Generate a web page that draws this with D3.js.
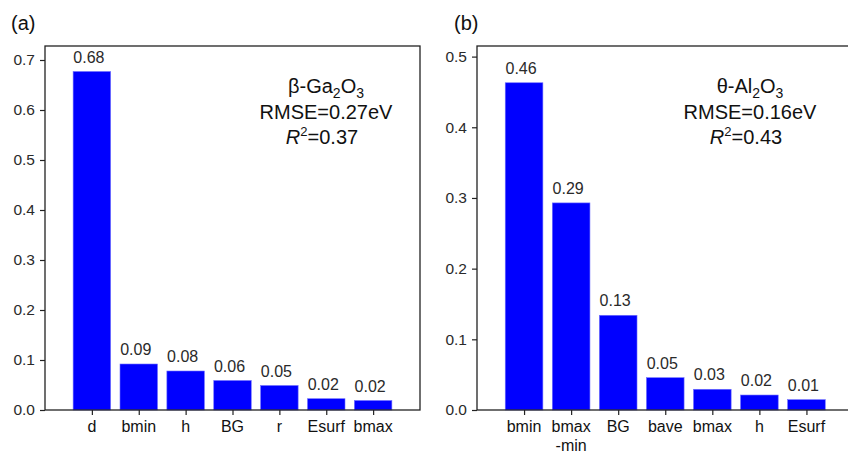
<!DOCTYPE html>
<html>
<head>
<meta charset="utf-8">
<script src="https://cdn.jsdelivr.net/npm/d3@7"></script>
<style>
  html, body { margin: 0; padding: 0; background: #fff; }
  svg { display: block; font-family: "Liberation Sans", Arial, sans-serif; }
</style>
</head>
<body>
<svg id="chart" width="848" height="455"></svg>
<script>
// Feature importance, panel (a): beta-Ga2O3
const featuresA = ["d", "bmin", "h", "BG", "r", "Esurf", "bmax"];
const importanceA = [0.677, 0.092, 0.078, 0.059, 0.049, 0.0226, 0.019];
const yTicksA = [0, 0.1, 0.2, 0.3, 0.4, 0.5, 0.6, 0.7];

// Feature importance, panel (b): theta-Al2O3
const featuresB = ["bmin", "bmax\n-min", "BG", "bave", "bmax", "h", "Esurf"];
const importanceB = [0.463, 0.293, 0.134, 0.0457, 0.0293, 0.0212, 0.0146];
const yTicksB = [0, 0.1, 0.2, 0.3, 0.4, 0.5];

// Fit statistics shown inside each panel
const statsA = { phase: "β", metal: "Ga", rmse: "0.27", r2: "0.37" };
const statsB = { phase: "θ", metal: "Al", rmse: "0.16", r2: "0.43" };

const svg = d3.select("#chart");
const fmt2 = d3.format(".2f");
const fmt1 = d3.format(".1f");

function drawPanel(opt) {
  const { left, width, top, bottom, yMax, feats, vals, ticks, tag, tagX, stats, noteX } = opt;
  const g = svg.append("g");

  const x = d3.scaleLinear().domain([-1, 7]).range([left, left + width]);
  const y = d3.scaleLinear().domain([0, yMax]).range([bottom, top]);
  const barW = x(0.8) - x(0);

  // bars
  g.selectAll("rect.bar")
    .data(vals)
    .join("rect")
    .attr("class", "bar")
    .attr("x", (d, i) => x(i) - barW / 2)
    .attr("y", d => y(d))
    .attr("width", barW)
    .attr("height", d => y(0) - y(d))
    .attr("fill", "#0000ff")
    .attr("stroke", "#6f6fff")
    .attr("stroke-width", 0.6);

  // value labels
  g.selectAll("text.val")
    .data(vals)
    .join("text")
    .attr("class", "val")
    .attr("x", (d, i) => x(i) - 3)
    .attr("y", d => y(d) - 9)
    .attr("text-anchor", "middle")
    .attr("font-size", 16)
    .attr("fill", "#2a2a2a")
    .text(d => fmt2(d));

  // y axis
  const ya = g.append("g")
    .attr("transform", `translate(${left},0)`)
    .call(d3.axisLeft(y).tickValues(ticks).tickFormat(fmt1).tickSize(5).tickPadding(5));
  ya.select(".domain").remove();
  ya.selectAll("line").attr("stroke", "#222").attr("stroke-width", 1.2);
  ya.selectAll("text").attr("font-size", 15.5).attr("fill", "#2a2a2a")
    .attr("font-family", "Liberation Sans, Arial, sans-serif");

  // x axis with category names
  const xa = g.append("g")
    .attr("transform", `translate(0,${bottom})`)
    .call(d3.axisBottom(x).tickValues(d3.range(feats.length)).tickFormat("").tickSize(5));
  xa.select(".domain").remove();
  xa.selectAll("line").attr("stroke", "#222").attr("stroke-width", 1.2);

  const cat = g.selectAll("text.cat")
    .data(feats)
    .join("text")
    .attr("class", "cat")
    .attr("text-anchor", "middle")
    .attr("font-size", 16)
    .attr("fill", "#111");
  cat.each(function (d, i) {
    const t = d3.select(this);
    d.split("\n").forEach((line, k) => {
      t.append("tspan")
        .attr("x", x(i))
        .attr("y", bottom + 22 + k * 19)
        .text(line);
    });
  });

  // frame
  g.append("rect")
    .attr("x", left).attr("y", top)
    .attr("width", width).attr("height", bottom - top)
    .attr("fill", "none")
    .attr("stroke", "#222")
    .attr("stroke-width", 1.3);

  // panel tag
  svg.append("text")
    .attr("x", tagX).attr("y", 30)
    .attr("font-size", 20)
    .attr("fill", "#111")
    .text(tag);

  // fit statistics
  const note = g.append("g").attr("font-size", 20).attr("fill", "#111").attr("text-anchor", "middle");
  const l1 = note.append("text").attr("x", noteX).attr("y", 93);
  l1.append("tspan").text(`${stats.phase}-${stats.metal}`);
  l1.append("tspan").attr("font-size", 14).attr("dy", 5).text("2");
  l1.append("tspan").attr("dy", -5).text("O");
  l1.append("tspan").attr("font-size", 14).attr("dy", 5).text("3");

  note.append("text").attr("x", noteX).attr("y", 118.5).text(`RMSE=${stats.rmse}eV`);

  const l3 = note.append("text").attr("x", noteX - 4).attr("y", 143.5);
  l3.append("tspan").attr("font-style", "italic").text("R");
  l3.append("tspan").attr("font-size", 13).attr("dy", -8).text("2");
  l3.append("tspan").attr("dy", 8).text(`=${stats.r2}`);
}

drawPanel({
  left: 45, width: 375, top: 46, bottom: 410, yMax: 0.728,
  feats: featuresA, vals: importanceA, ticks: yTicksA,
  tag: "(a)", tagX: 11, stats: statsA, noteX: 326
});

drawPanel({
  left: 477, width: 376.5, top: 46, bottom: 410, yMax: 0.515,
  feats: featuresB, vals: importanceB, ticks: yTicksB,
  tag: "(b)", tagX: 454, stats: statsB, noteX: 750
});
</script>
</body>
</html>
